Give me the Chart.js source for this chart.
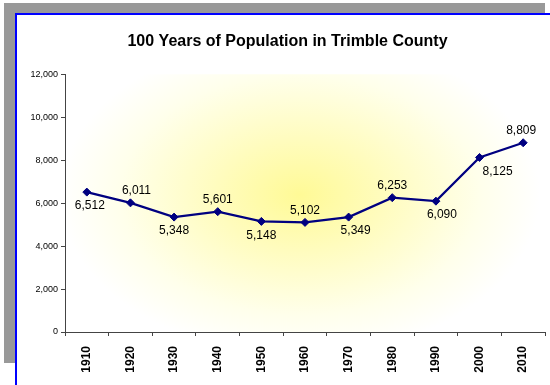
<!DOCTYPE html>
<html>
<head>
<meta charset="utf-8">
<script src="https://cdn.jsdelivr.net/npm/chart.js@4"></script>
<style>
  html, body { margin: 0; padding: 0; background: #fff; }
  body { width: 550px; height: 385px; position: relative; overflow: hidden; }
  #shadow { position: absolute; left: 4px; top: 3px; width: 541px; height: 360px; background: #999999; }
  #frame { position: absolute; left: 15px; top: 13px; width: 600px; height: 400px; background: #fff;
           border-left: 2px solid #0000ff; border-top: 2px solid #0000ff; }
  #chart { position: absolute; left: 0; top: 0; }
</style>
</head>
<body>
<div id="shadow"></div>
<div id="frame"></div>
<canvas id="chart" width="550" height="385"></canvas>
<script>
// Census years and population counts
const years = ['1910', '1920', '1930', '1940', '1950', '1960', '1970', '1980', '1990', '2000', '2010'];
const population = [6512, 6011, 5348, 5601, 5148, 5102, 5349, 6253, 6090, 8125, 8809];
const yTicks = [0, 2000, 4000, 6000, 8000, 10000, 12000];

// Where each value label sits relative to its point
const labelSide = ['below', 'above', 'below', 'above', 'below', 'above', 'below', 'above', 'below', 'below', 'above'];
const labelShift = [3, 6, 0, 0, 0, 0, 7, 0, 6, 18, -2];

// Yellow radial fill behind the plot area
const plotFill = {
    id: 'plotFill',
    beforeDraw(chart) {
        const { ctx, chartArea: a } = chart;
        const cx = (a.left + a.right) / 2 - 5;
        const cy = (a.top + a.bottom) / 2 - 8;
        const rx = a.width * 0.5;
        const ry = a.height * 0.62;
        ctx.save();
        ctx.beginPath();
        ctx.rect(a.left, a.top, a.width, a.height);
        ctx.clip();
        ctx.translate(cx, cy);
        ctx.scale(1, ry / rx);
        const g = ctx.createRadialGradient(0, 0, 0, 0, 0, rx);
        g.addColorStop(0, 'rgb(255,250,150)');
        g.addColorStop(0.35, 'rgb(255,252,190)');
        g.addColorStop(0.75, 'rgb(255,255,235)');
        g.addColorStop(1, 'rgb(255,255,255)');
        ctx.fillStyle = g;
        ctx.fillRect(-rx * 2, -rx * 2, rx * 4, rx * 4);
        ctx.restore();
    }
};

// Number labels next to every point
const valueLabels = {
    id: 'valueLabels',
    afterDatasetsDraw(chart) {
        const { ctx } = chart;
        const meta = chart.getDatasetMeta(0);
        ctx.save();
        ctx.font = '12px Arial, "Liberation Sans", sans-serif';
        ctx.fillStyle = '#000';
        ctx.textAlign = 'center';
        ctx.textBaseline = 'middle';
        meta.data.forEach((pt, i) => {
            const v = chart.data.datasets[0].data[i];
            const dy = labelSide[i] === 'above' ? -12 : 14;
            ctx.fillText(v.toLocaleString('en-US'), pt.x + labelShift[i], pt.y + dy);
        });
        ctx.restore();
    }
};

new Chart(document.getElementById('chart'), {
    type: 'line',
    data: {
        labels: years,
        datasets: [{
            label: 'Population',
            data: population,
            borderColor: '#000080',
            backgroundColor: '#000080',
            borderWidth: 2.25,
            pointStyle: 'rectRot',
            pointRadius: 4,
            pointBorderWidth: 1,
            tension: 0
        }]
    },
    options: {
        responsive: false,
        animation: false,
        layout: { padding: { left: 26, right: 1, top: 0, bottom: 0 } },
        plugins: {
            legend: { display: false },
            tooltip: { enabled: false },
            title: {
                display: true,
                text: '100 Years of Population in Trimble County',
                color: '#000',
                font: { family: 'Arial, "Liberation Sans", sans-serif', size: 16, weight: 'bold' },
                padding: { top: 32, bottom: 23 }
            }
        },
        scales: {
            x: {
                offset: true,
                afterFit(scale) { scale.height = 53; },
                grid: { drawOnChartArea: false, drawTicks: true, tickLength: 4, color: '#444', offset: true },
                border: { color: '#444', width: 1 },
                ticks: {
                    color: '#000',
                    minRotation: 90,
                    maxRotation: 90,
                    padding: 10,
                    font: { family: 'Arial, "Liberation Sans", sans-serif', size: 12, weight: 'bold' }
                }
            },
            y: {
                min: 0,
                max: 12000,
                afterFit(scale) { scale.width = 39; },
                afterBuildTicks(scale) { scale.ticks = yTicks.map(v => ({ value: v })); },
                grid: { drawOnChartArea: false, drawTicks: true, tickLength: 4, color: '#444' },
                border: { color: '#444', width: 1 },
                ticks: {
                    color: '#000',
                    padding: 3,
                    font: { family: 'Arial, "Liberation Sans", sans-serif', size: 9 },
                    callback: v => v.toLocaleString('en-US')
                }
            }
        }
    },
    plugins: [plotFill, valueLabels]
});
</script>
</body>
</html>
